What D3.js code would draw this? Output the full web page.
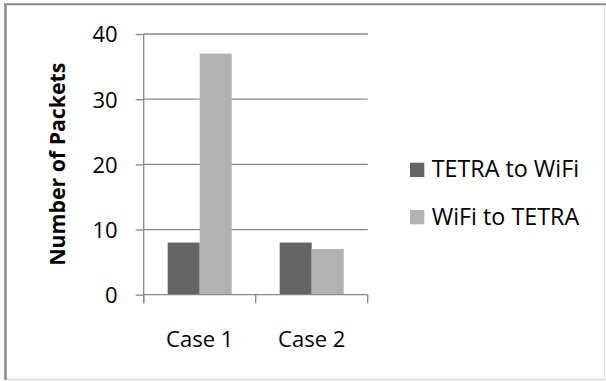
<!DOCTYPE html>
<html>
<head>
<meta charset="utf-8">
<script src="https://cdn.jsdelivr.net/npm/d3@7"></script>
<style>
  html, body { margin: 0; padding: 0; background: #fff; }
  svg { display: block; font-family: "Open Sans", "DejaVu Sans", sans-serif; }
</style>
</head>
<body>
<svg id="chart" width="606" height="381"></svg>
<script>
// Packets delivered per test case, by direction of transfer
const categories = ["Case 1", "Case 2"];
const seriesNames = ["TETRA to WiFi", "WiFi to TETRA"];
const tetraToWifi = [8, 8];
const wifiToTetra = [37, 7];
const yTicks = [0, 10, 20, 30, 40];
const yTitle = "Number of Packets";

const seriesValues = [tetraToWifi, wifiToTetra];
const colors = ["#646464", "#b2b2b2"];

const svg = d3.select("#chart");
const W = 606, H = 381;

// Frame around the whole chart
svg.append("rect").attr("x", 0).attr("y", 0).attr("width", W).attr("height", H).attr("fill", "#fff");
svg.append("line").attr("x1", 5.5).attr("x2", 5.5).attr("y1", 4).attr("y2", 380).attr("stroke", "#8a8a8a").attr("stroke-width", 2.5);
svg.append("line").attr("x1", 4).attr("x2", 606).attr("y1", 4.3).attr("y2", 4.3).attr("stroke", "#8a8a8a").attr("stroke-width", 2);
svg.append("line").attr("x1", 7).attr("x2", 606).attr("y1", 379.5).attr("y2", 379.5).attr("stroke", "#dcdcdc").attr("stroke-width", 1.5);
svg.append("line").attr("x1", 604.5).attr("x2", 604.5).attr("y1", 5).attr("y2", 380).attr("stroke", "#e2e2e2").attr("stroke-width", 1);

// Plot area
const plot = { left: 143.7, right: 367.7, top: 34, bottom: 294.7 };

const x0 = d3.scaleBand().domain(categories).range([plot.left, plot.right]).padding(0);
const x1 = d3.scaleBand().domain(seriesNames).range([0, x0.bandwidth()]).paddingInner(0).paddingOuter(0.75);
const y = d3.scaleLinear().domain([0, 40]).range([plot.bottom, plot.top]);

const axisColor = "#878787";

// Horizontal gridlines
svg.append("g").selectAll("line").data(yTicks.filter(d => d > 0)).join("line")
  .attr("x1", plot.left).attr("x2", plot.right)
  .attr("y1", d => y(d)).attr("y2", d => y(d))
  .attr("stroke", axisColor).attr("stroke-width", 1.3);

// Bars
const groups = svg.append("g").selectAll("g").data(categories).join("g")
  .attr("transform", c => `translate(${x0(c)},0)`);
groups.selectAll("rect")
  .data((c, i) => seriesNames.map((s, j) => ({ s, v: seriesValues[j][i], j })))
  .join("rect")
  .attr("x", d => x1(d.s))
  .attr("width", x1.bandwidth())
  .attr("y", d => y(d.v))
  .attr("height", d => y(0) - y(d.v))
  .attr("fill", d => colors[d.j]);

// Y axis with ticks and labels
const yAxis = d3.axisLeft(y).tickValues(yTicks).tickSize(8).tickPadding(18).tickFormat(d3.format("d"));
const gy = svg.append("g").attr("transform", `translate(${plot.left},0)`).call(yAxis);
gy.select(".domain").remove();
gy.selectAll(".tick line").attr("stroke", axisColor).attr("stroke-width", 1.3);
gy.selectAll(".tick text").attr("font-size", 22).attr("fill", "#000")
  .attr("font-family", "'Open Sans', sans-serif").attr("dy", "0.36em");
svg.append("line").attr("x1", plot.left).attr("x2", plot.left)
  .attr("y1", plot.top).attr("y2", plot.bottom + 8.5)
  .attr("stroke", axisColor).attr("stroke-width", 1.3);

// X axis: baseline, category boundary ticks, labels
svg.append("line").attr("x1", plot.left).attr("x2", plot.right)
  .attr("y1", y(0)).attr("y2", y(0))
  .attr("stroke", axisColor).attr("stroke-width", 1.3);
const boundaries = categories.map(c => x0(c)).concat([x0(categories[categories.length - 1]) + x0.bandwidth()]);
svg.append("g").selectAll("line").data(boundaries).join("line")
  .attr("x1", d => d).attr("x2", d => d)
  .attr("y1", y(0)).attr("y2", y(0) + 8.5)
  .attr("stroke", axisColor).attr("stroke-width", 1.3);
svg.append("g").selectAll("text").data(categories).join("text")
  .attr("x", c => x0(c) + x0.bandwidth() / 2)
  .attr("y", 346.7)
  .attr("text-anchor", "middle")
  .attr("font-size", 22).attr("fill", "#000")
  .text(c => c);

// Y axis title
svg.append("text")
  .attr("transform", "translate(65,164.2) rotate(-90)")
  .attr("text-anchor", "middle")
  .attr("font-size", 21.3).attr("font-weight", "bold").attr("fill", "#000")
  .text(yTitle);

// Legend
const legend = svg.append("g").selectAll("g").data(seriesNames).join("g")
  .attr("transform", (d, i) => `translate(410,${162.7 + i * 47.3})`);
legend.append("rect").attr("width", 14.3).attr("height", 14.3).attr("fill", (d, i) => colors[i]);
legend.append("text").attr("x", 21.7).attr("y", 14.7)
  .attr("font-size", 23.3).attr("fill", "#000").text(d => d);
</script>
</body>
</html>
